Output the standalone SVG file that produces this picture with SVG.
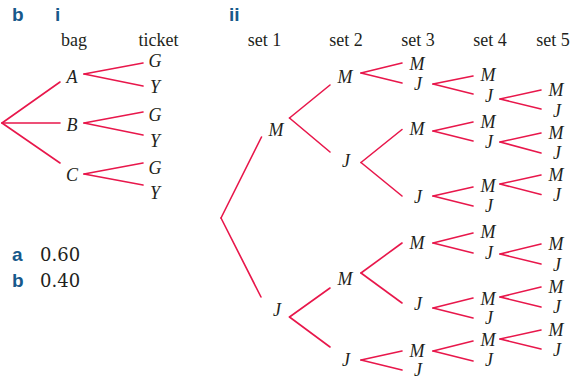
<svg xmlns="http://www.w3.org/2000/svg" width="579" height="378" viewBox="0 0 579 378">
<style>
.h{font-family:"Liberation Sans",Arial,sans-serif;font-weight:bold;font-size:19px;fill:#17598b}
.t{font-family:"Liberation Serif","Times New Roman",serif;font-size:18px;fill:#231f20;text-anchor:middle}
.v{font-family:"Liberation Serif","Times New Roman",serif;font-style:italic;font-size:18px;fill:#231f20;text-anchor:middle}
.n{font-family:"DejaVu Serif",serif;font-size:18px;fill:#231f20}
.c line{stroke:#e8174b;stroke-width:1.6;stroke-linecap:round;fill:none}
</style>
<rect width="579" height="378" fill="#fff"/>
<g id="headers">
<text class="h" x="12" y="21">b</text>
<text class="h" x="55" y="21">i</text>
<text class="h" x="229" y="21">ii</text>
<text class="t" x="74" y="46">bag</text>
<text class="t" x="158.5" y="46">ticket</text>
<text class="t" x="264.5" y="46">set 1</text>
<text class="t" x="346" y="46">set 2</text>
<text class="t" x="418" y="46">set 3</text>
<text class="t" x="490" y="46">set 4</text>
<text class="t" x="553" y="46">set 5</text>
</g>
<g id="answers">
<text class="h" x="12" y="261">a</text>
<text class="n" x="40" y="261">0.60</text>
<text class="h" x="12" y="287">b</text>
<text class="n" x="40" y="287">0.40</text>
</g>
<g class="c" id="connectors">
<line x1="2" y1="123" x2="60" y2="82"/>
<line x1="2" y1="123" x2="60" y2="123"/>
<line x1="2" y1="123" x2="60" y2="163"/>
<line x1="84" y1="74" x2="143" y2="63"/>
<line x1="84" y1="74" x2="143" y2="86"/>
<line x1="84" y1="123" x2="143" y2="112"/>
<line x1="84" y1="123" x2="143" y2="135"/>
<line x1="84" y1="174" x2="143" y2="163"/>
<line x1="84" y1="174" x2="143" y2="185"/>
<line x1="221" y1="218" x2="261.5" y2="137"/>
<line x1="221" y1="218" x2="261" y2="297"/>
<line x1="289.5" y1="118" x2="330" y2="85"/>
<line x1="289.5" y1="118" x2="330" y2="152"/>
<line x1="289.5" y1="317" x2="330" y2="288"/>
<line x1="289.5" y1="317" x2="330" y2="347"/>
<line x1="361" y1="73" x2="402" y2="63"/>
<line x1="361" y1="73" x2="402" y2="83"/>
<line x1="361" y1="162.5" x2="402" y2="129.5"/>
<line x1="361" y1="162.5" x2="402" y2="196"/>
<line x1="361" y1="273" x2="402" y2="243"/>
<line x1="361" y1="273" x2="402" y2="303"/>
<line x1="361" y1="360" x2="402" y2="351"/>
<line x1="361" y1="360" x2="402" y2="370"/>
<line x1="433" y1="84" x2="473" y2="76"/>
<line x1="433" y1="84" x2="473" y2="94"/>
<line x1="433" y1="131" x2="473" y2="122"/>
<line x1="433" y1="131" x2="473" y2="141"/>
<line x1="433" y1="196" x2="473" y2="187"/>
<line x1="433" y1="196" x2="473" y2="206"/>
<line x1="433" y1="243" x2="473" y2="233"/>
<line x1="433" y1="243" x2="473" y2="253"/>
<line x1="433" y1="308" x2="473" y2="298"/>
<line x1="433" y1="308" x2="473" y2="318"/>
<line x1="433" y1="351" x2="473" y2="341"/>
<line x1="433" y1="351" x2="473" y2="361"/>
<line x1="500" y1="99" x2="541" y2="90"/>
<line x1="500" y1="99" x2="541" y2="109"/>
<line x1="500" y1="142" x2="541" y2="133"/>
<line x1="500" y1="142" x2="541" y2="153"/>
<line x1="500" y1="184" x2="541" y2="175"/>
<line x1="500" y1="184" x2="541" y2="194.5"/>
<line x1="500" y1="254" x2="541" y2="244"/>
<line x1="500" y1="254" x2="541" y2="264"/>
<line x1="500" y1="297" x2="541" y2="287"/>
<line x1="500" y1="297" x2="541" y2="307"/>
<line x1="500" y1="339" x2="541" y2="330"/>
<line x1="500" y1="339" x2="541" y2="349"/>
</g>
<g id="bagA"><text class="v" x="72" y="83">A</text></g>
<g id="bagB"><text class="v" x="72" y="131">B</text></g>
<g id="bagC"><text class="v" x="72" y="181">C</text></g>
<g id="A-G"><text class="v" x="155" y="67">G</text></g>
<g id="A-Y"><text class="v" x="155" y="93">Y</text></g>
<g id="B-G"><text class="v" x="155" y="121">G</text></g>
<g id="B-Y"><text class="v" x="155" y="147">Y</text></g>
<g id="C-G"><text class="v" x="155" y="174">G</text></g>
<g id="C-Y"><text class="v" x="155" y="199">Y</text></g>
<g id="s1M"><text class="v" x="276" y="136">M</text></g>
<g id="s1J"><text class="v" x="277" y="316">J</text></g>
<g id="s2M-a"><text class="v" x="345" y="83">M</text></g>
<g id="s2J-a"><text class="v" x="346" y="167">J</text></g>
<g id="s2M-b"><text class="v" x="345" y="285">M</text></g>
<g id="s2J-b"><text class="v" x="346" y="366">J</text></g>
<g id="s3M-a"><text class="v" x="417" y="70">M</text></g>
<g id="s3J-a"><text class="v" x="418" y="90">J</text></g>
<g id="s3M-b"><text class="v" x="417" y="135">M</text></g>
<g id="s3J-b"><text class="v" x="418" y="203">J</text></g>
<g id="s3M-c"><text class="v" x="417" y="249">M</text></g>
<g id="s3J-c"><text class="v" x="418" y="310">J</text></g>
<g id="s3M-d"><text class="v" x="417" y="357">M</text></g>
<g id="s3J-d"><text class="v" x="418" y="375.5">J</text></g>
<g id="s4M-a"><text class="v" x="488" y="81">M</text></g>
<g id="s4J-a"><text class="v" x="489" y="102">J</text></g>
<g id="s4M-b"><text class="v" x="488" y="128">M</text></g>
<g id="s4J-b"><text class="v" x="489" y="148">J</text></g>
<g id="s4M-c"><text class="v" x="488" y="192">M</text></g>
<g id="s4J-c"><text class="v" x="489" y="212">J</text></g>
<g id="s4M-d"><text class="v" x="488" y="238">M</text></g>
<g id="s4J-d"><text class="v" x="489" y="259">J</text></g>
<g id="s4M-e"><text class="v" x="488" y="305">M</text></g>
<g id="s4J-e"><text class="v" x="489" y="324">J</text></g>
<g id="s4M-f"><text class="v" x="488" y="346">M</text></g>
<g id="s4J-f"><text class="v" x="489" y="366">J</text></g>
<g id="s5M-a"><text class="v" x="556" y="96">M</text></g>
<g id="s5J-a"><text class="v" x="557" y="117">J</text></g>
<g id="s5M-b"><text class="v" x="556" y="139">M</text></g>
<g id="s5J-b"><text class="v" x="557" y="159">J</text></g>
<g id="s5M-c"><text class="v" x="556" y="181">M</text></g>
<g id="s5J-c"><text class="v" x="557" y="201">J</text></g>
<g id="s5M-d"><text class="v" x="556" y="250">M</text></g>
<g id="s5J-d"><text class="v" x="557" y="271">J</text></g>
<g id="s5M-e"><text class="v" x="556" y="293">M</text></g>
<g id="s5J-e"><text class="v" x="557" y="313">J</text></g>
<g id="s5M-f"><text class="v" x="556" y="336">M</text></g>
<g id="s5J-f"><text class="v" x="557" y="356">J</text></g>
</svg>
